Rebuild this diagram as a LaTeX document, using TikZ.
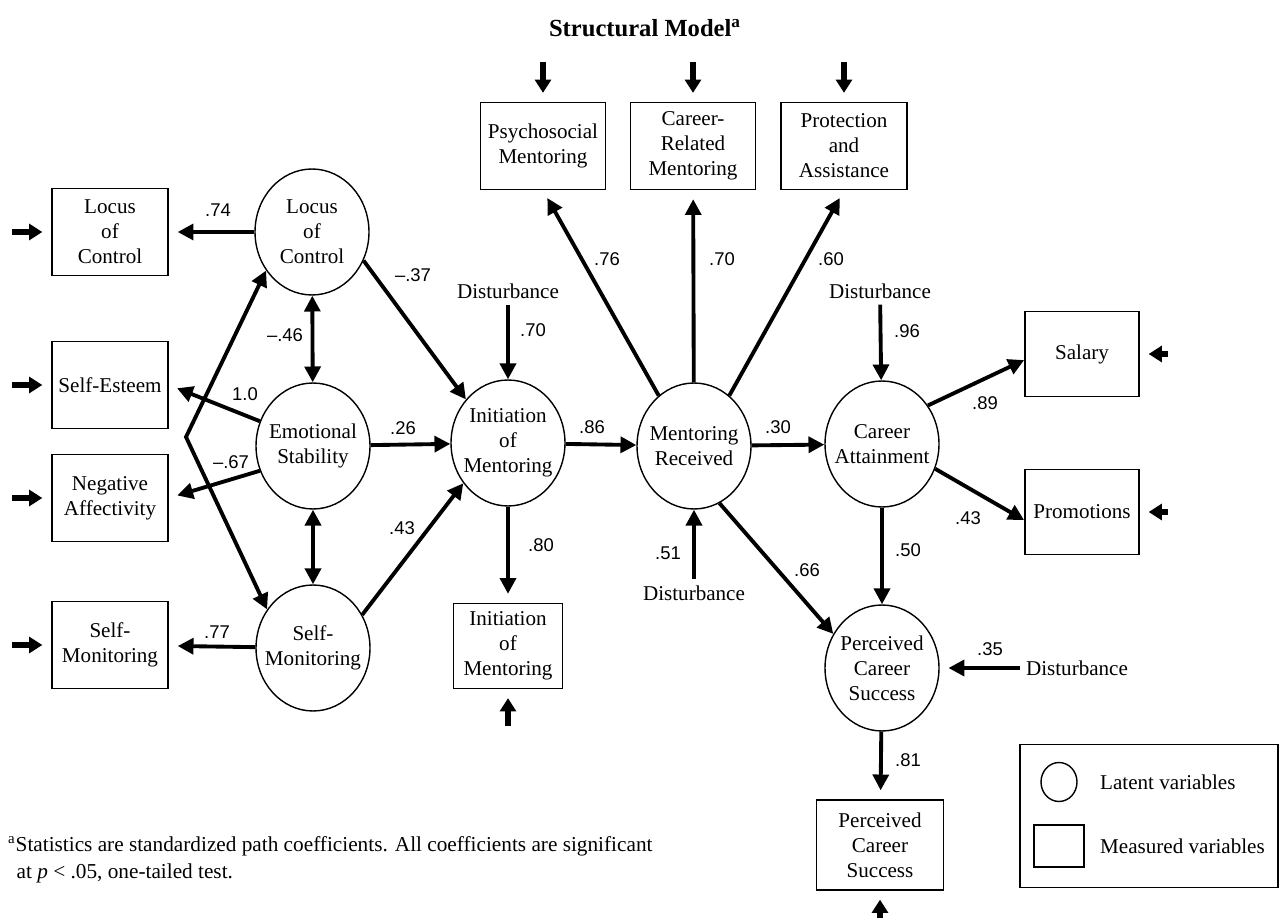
\documentclass[tikz,border=0pt]{standalone}
\usepackage{fontspec}
\setmainfont{Liberation Serif}
\newfontfamily\coeffont{Liberation Sans}
\usetikzlibrary{arrows.meta,shapes.geometric}
\begin{document}
\begin{tikzpicture}[x=0.02cm,y=-0.02cm,
  font=\fontsize{12}{14.2}\selectfont,
  latent/.style={ellipse,draw,line width=0.8pt,minimum width=2.28cm,minimum height=2.52cm,inner sep=-6pt,align=center},
  measured/.style={rectangle,draw,line width=1pt,minimum width=2.32cm,minimum height=1.74cm,inner sep=0pt,align=center},
  coef/.style={line width=2.2pt,-{Triangle[length=9pt,width=9pt]}},
  tobox/.style={shorten >=5pt},
  twoway/.style={line width=2.2pt,{Triangle[length=9pt,width=9pt]}-{Triangle[length=9pt,width=9pt]}},
  resid/.style={line width=3pt,-{Triangle[length=7.5pt,width=9pt]},shorten >=5pt},
  coeflabel/.style={font=\coeffont\fontsize{10.5}{12}\selectfont,inner sep=1pt}]
\useasboundingbox[fill=white] (0,0) rectangle (1288,918);
\node[font=\bfseries\fontsize{14}{16}\selectfont] (title) at (645,28) {Structural Model\textsuperscript{a}};
\node[latent] (lc) at (312,232) {Locus\\of\\Control};
\node[latent] (es) at (313,446) {Emotional\\Stability};
\node[latent] (sm) at (313,648) {Self-\\Monitoring};
\node[latent] (im) at (508,443) {Initiation\\of\\Mentoring};
\node[latent] (mr) at (694,446) {Mentoring\\Received};
\node[latent] (ca) at (882,444) {Career\\Attainment};
\node[latent] (pcs) at (882,668) {Perceived\\Career\\Success};
\node[measured] (lcm) at (110,232) {Locus\\of\\Control};
\node[measured] (sem) at (110,385) {Self-Esteem};
\node[measured] (nam) at (110,498) {Negative\\Affectivity};
\node[measured] (smm) at (110,645) {Self-\\Monitoring};
\node[measured,minimum width=2.5cm] (psm) at (543,146) {Psychosocial\\Mentoring};
\node[measured,minimum width=2.5cm] (crm) at (693,146) {Career-\\Related\\Mentoring};
\node[measured,minimum width=2.52cm] (pam) at (844,146) {Protection\\and\\Assistance};
\node[measured,minimum width=2.28cm,minimum height=1.7cm] (sal) at (1082,354) {Salary};
\node[measured,minimum width=2.28cm,minimum height=1.7cm] (pro) at (1082,512) {Promotions};
\node[measured,minimum width=2.18cm,minimum height=1.7cm] (imm) at (508,646) {Initiation\\of\\Mentoring};
\node[measured,minimum width=2.54cm,minimum height=1.8cm] (pcsm) at (880,845) {Perceived\\Career\\Success};
\node (d1) at (508,291) {Disturbance};
\node (d2) at (880,291) {Disturbance};
\node (d3) at (694,593) {Disturbance};
\node (d4) at (1077,668) {Disturbance};
\coordinate (bend) at (186,437);
\foreach \v/\x/\y in {lcm/12/232,sem/12/385,nam/12/498,smm/12/645}
  \draw[resid] (\x,\y) coordinate (r\v) -- (\v.west);
\foreach \v/\x in {psm/543,crm/693,pam/844}
  \draw[resid] (\x,62) coordinate (r\v) -- (\v.north);
\foreach \v/\y in {sal/354,pro/512}
  \draw[resid] (1168,\y) coordinate (r\v) -- (\v.east);
\draw[resid] (508,726) coordinate (rimm) -- (imm.south);
\draw[resid] (880,918) coordinate (rpcsm) -- (pcsm.south);
\draw[coef,tobox] (lc) -- (lcm);
\draw[coef,tobox] (es.155) -- (sem.east);
\draw[coef,tobox] (es.205) -- (nam.east);
\draw[coef,tobox] (sm) -- (smm);
\draw[twoway] (lc) -- (es);
\draw[twoway] (es) -- (sm);
\draw[twoway] (lc.220) -- (bend) -- (sm.140);
\draw[coef] (lc.331) -- (im.134);
\draw[coef] (es) -- (im);
\draw[coef] (sm.34) -- (im.222);
\draw[coef] (d1) -- (im);
\draw[coef] (im) -- (mr);
\draw[coef,tobox] (im) -- (imm);
\draw[coef,tobox] (mr.125) -- (psm.south);
\draw[coef,tobox] (mr) -- (crm);
\draw[coef,tobox] (mr.55) -- (pam.south);
\draw[coef] (d3) -- (mr);
\draw[coef] (mr) -- (ca);
\draw[coef] (mr.294) -- (pcs.145);
\draw[coef] (d2) -- (ca);
\draw[coef] (ca.40) -- (sal.186);
\draw[coef] (ca.335) -- (pro.188);
\draw[coef] (ca) -- (pcs);
\draw[coef,tobox] (d4) -- (pcs);
\draw[coef,tobox] (pcs) -- (pcsm);
\foreach \x/\y/\v [count=\i] in {218/210/.74,413/275/–.37,285/335/–.46,245/394/1.0,231/462/–.67,
  403/428/.26,402/528/.43,217/632/.77,533/330/.70,541/545/.80,592/427/.86,607/259/.76,
  722/259/.70,831/259/.60,778/427/.30,668/553/.51,807/570/.66,907/331/.96,985/403/.89,
  968/518/.43,908/550/.50,990/649/.35,908/760/.81}
  \node[coeflabel] (c\i) at (\x,\y) {\v};
\node[draw,line width=1pt,minimum width=5.16cm,minimum height=2.86cm] (legend) at (1149,816) {};
\node[ellipse,draw,line width=0.8pt,minimum width=0.72cm,minimum height=0.78cm] (lgc) at (1059,782) {};
\node[draw,line width=1pt,minimum width=1cm,minimum height=0.84cm] (lgs) at (1059,846) {};
\node[anchor=west] (lgct) at (1094,782) {Latent variables};
\node[anchor=west] (lgst) at (1094,846) {Measured variables};
\node[anchor=north west,align=left,font=\fontsize{12.1}{15.3}\selectfont] (note) at (2,830)
  {\textsuperscript{a}Statistics are standardized path coefficients. All coefficients are significant\\
  \hspace{0.4em}at \textit{p} < .05, one-tailed test.};
\end{tikzpicture}
\end{document}
